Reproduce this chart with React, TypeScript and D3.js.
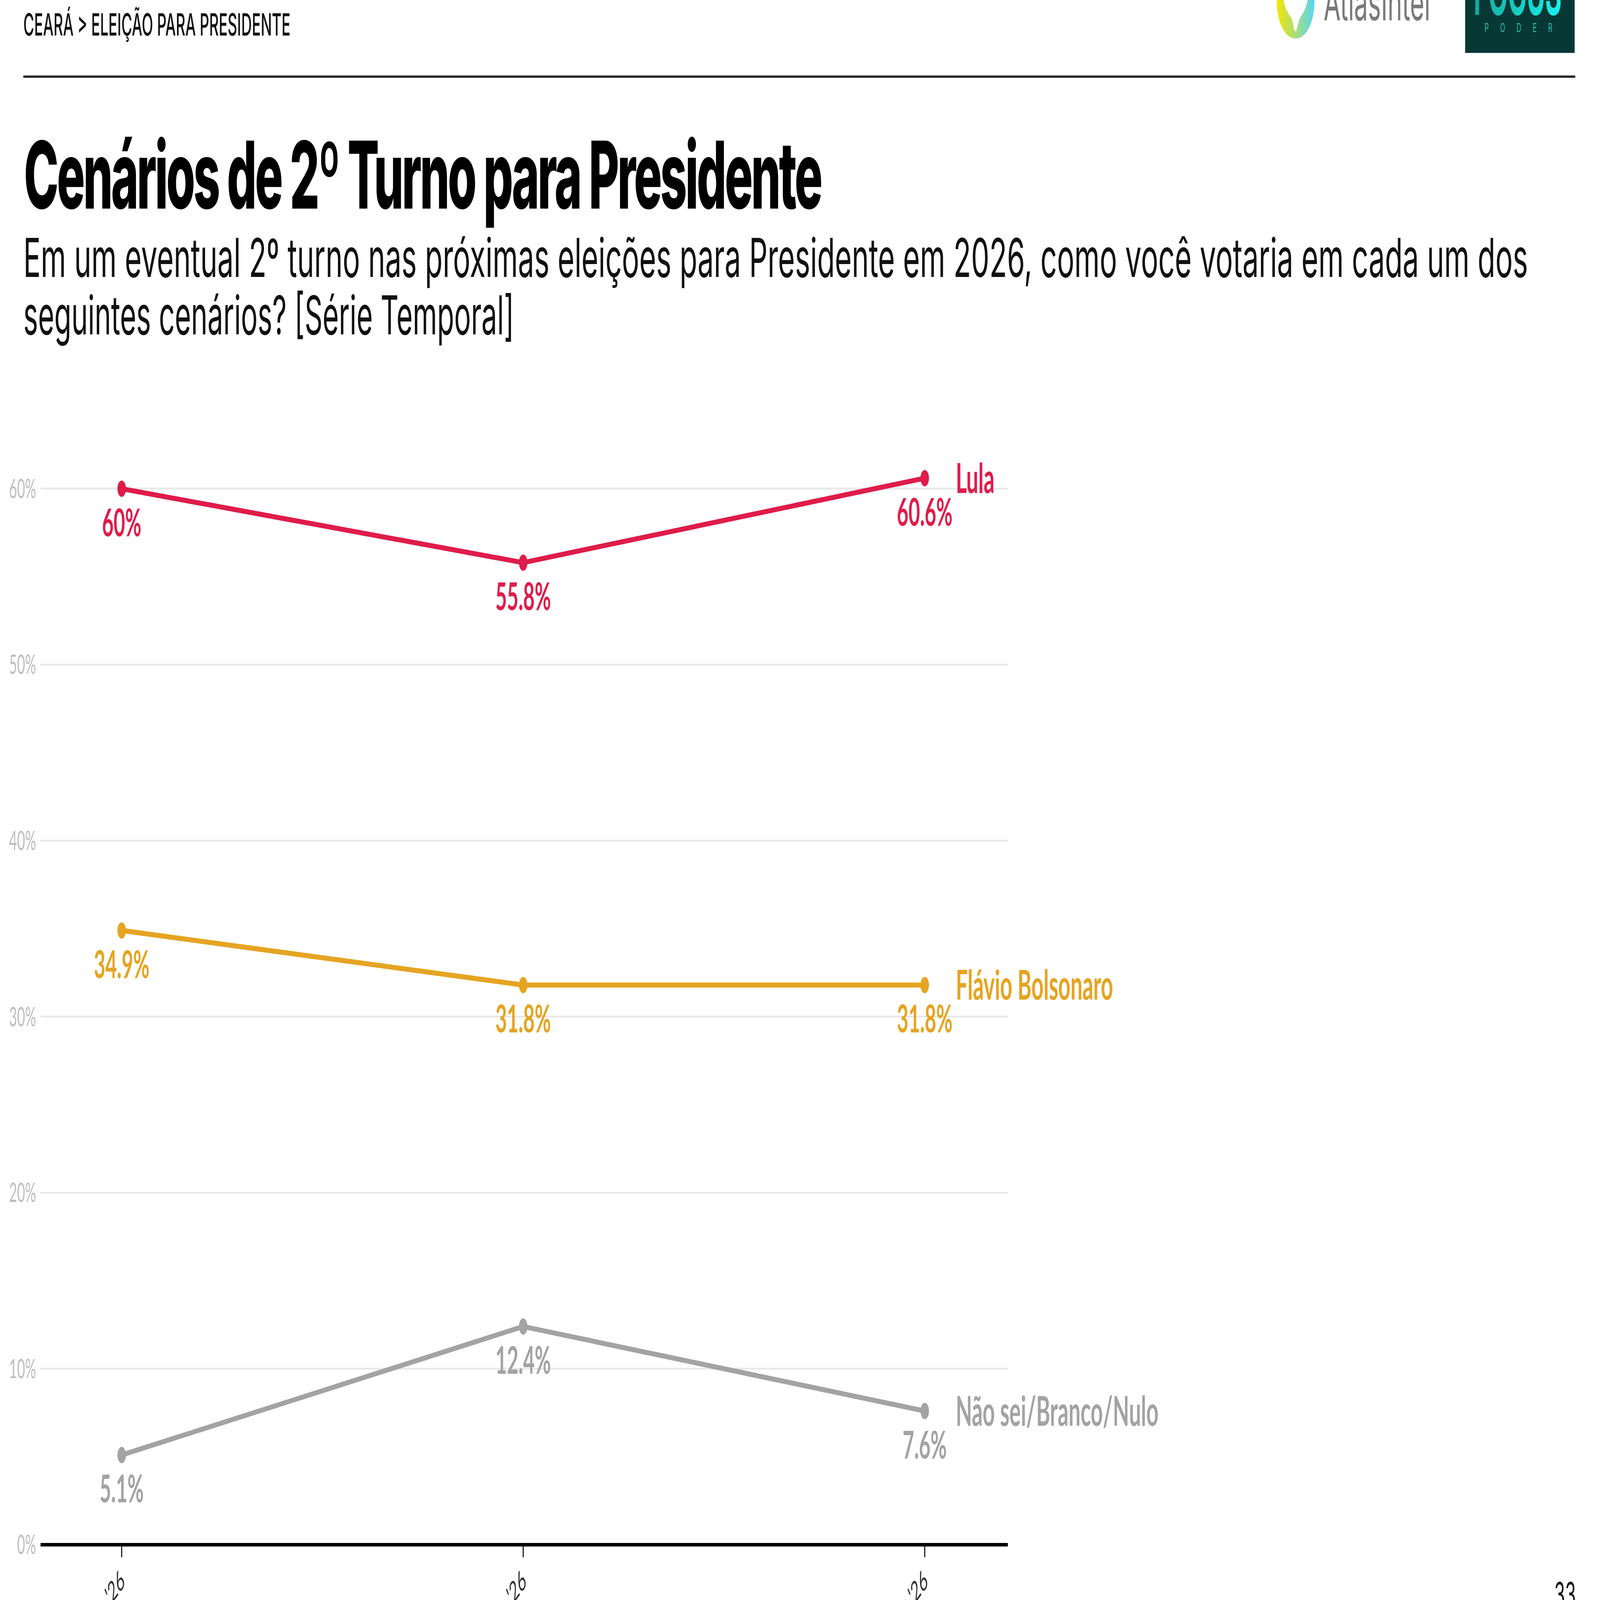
import React from 'react';
import * as d3 from 'd3';

const W = 7890;
const H = 4112;

const dates = ["Jan '26", "Fev '26", "Mar '26"];
const lula = [60, 55.8, 60.6];
const flavio = [34.9, 31.8, 31.8];
const naoSei = [5.1, 12.4, 7.6];
const seriesNames = ['Lula', 'Flávio Bolsonaro', 'Não sei/Branco/Nulo'];
const seriesColors = ['#df1c4a', '#e5a422', '#a3a3a3'];
const yTicks = [0, 10, 20, 30, 40, 50, 60];

const breadcrumb = 'CEARÁ > ELEIÇÃO PARA PRESIDENTE';
const title = 'Cenários de 2º Turno para Presidente';
const subtitle1 = 'Em um eventual 2º turno nas próximas eleições para Presidente em 2026, como você votaria em cada um dos';
const subtitle2 = 'seguintes cenários? [Série Temporal]';

const chartFont = 'Lato, "Noto Sans", sans-serif';
const headFont = 'Inter, "DejaVu Sans", sans-serif';

const fmt = (v: number) => `${v}%`;

export default function App() {
  const x = d3.scalePoint<string>().domain(dates).range([600, 4560]);
  const y = d3.scaleLinear().domain([0, 60]).range([3970, 1256]);

  const series = [lula, flavio, naoSei].map((values, i) => ({
    name: seriesNames[i],
    color: seriesColors[i],
    values,
  }));

  const line = d3
    .line<number>()
    .x((_, i) => x(dates[i]) as number)
    .y((d) => y(d));

  const gridLeft = 200;
  const gridRight = 4970;

  // the page is drawn in 7890x4112 units and stretched to whatever window we get
  return (
    <div style={{ position: 'fixed', left: 0, top: 0, width: '100vw', height: '100vh', background: '#fff' }}>
      <svg width="100%" height="100%" viewBox={`0 0 ${W} ${H}`} preserveAspectRatio="none"
        style={{ display: 'block' }}>
        <defs>
          <linearGradient id="atlasGrad" x1="0" x2="1" y1="0" y2="0">
            <stop offset="0" stopColor="#f7e600" />
            <stop offset="1" stopColor="#55d6f5" />
          </linearGradient>
          <linearGradient id="focusGrad" x1="0" x2="1" y1="0" y2="0">
            <stop offset="0" stopColor="#12a99a" />
            <stop offset="1" stopColor="#19f2ea" />
          </linearGradient>
        </defs>

        {/* header */}
        <text x={115} y={91} fontFamily={headFont} fontWeight={500} fontSize={78} fill="#111"
          textLength={1317} lengthAdjust="spacingAndGlyphs">{breadcrumb}</text>
        <line x1={115} x2={7768} y1={197} y2={197} stroke="#2a2a2a" strokeWidth={6} />

        {/* logos */}
        <path d="M6296,0 L6482,0 C6482,60 6440,99 6389,99 C6338,99 6296,60 6296,0 Z" fill="url(#atlasGrad)" />
        <path d="M6330,0 L6448,0 C6440,30 6412,40 6404,55 L6392,80 L6384,80 L6374,55 C6366,40 6338,30 6330,0 Z" fill="#fff" />
        <text x={6527} y={52} fontFamily={headFont} fontSize={125} fill="#7a7a7a"
          textLength={526} lengthAdjust="spacingAndGlyphs">AtlasIntel</text>
        <rect x={7225} y={0} width={540} height={136} fill="#083836" />
        <text x={7267} y={38} fontFamily={headFont} fontWeight={700} fontSize={160} fill="url(#focusGrad)"
          textLength={434} lengthAdjust="spacingAndGlyphs">FOCUS</text>
        <text x={7321} y={82} fontFamily={headFont} fontSize={32} fill="#1cc2b2"
          textLength={334} lengthAdjust="spacing">PODER</text>

        {/* titles */}
        <text x={118} y={536} fontFamily={headFont} fontWeight={800} fontSize={240} fill="#000"
          letterSpacing={-9} textLength={3930} lengthAdjust="spacingAndGlyphs">{title}</text>
        <text x={115} y={712} fontFamily={headFont} fontSize={138} fill="#111"
          textLength={7420} lengthAdjust="spacingAndGlyphs">{subtitle1}</text>
        <text x={115} y={859} fontFamily={headFont} fontSize={138} fill="#111"
          textLength={2420} lengthAdjust="spacingAndGlyphs">{subtitle2}</text>

        {/* grid + y labels */}
        {yTicks.map((t) => (
          <g key={t}>
            {t > 0 && (
              <line x1={gridLeft} x2={gridRight} y1={y(t)} y2={y(t)} stroke="#e9e9e9" strokeWidth={5} />
            )}
            <text x={178} y={y(t)} dy="0.35em" textAnchor="end" fontFamily={chartFont}
              fontSize={68} fill="#bdbdbd">{fmt(t)}</text>
          </g>
        ))}

        {/* x axis */}
        <line x1={gridLeft} x2={gridRight} y1={y(0)} y2={y(0)} stroke="#000" strokeWidth={9} />
        {dates.map((d) => (
          <g key={d} transform={`translate(${x(d)},${y(0)})`}>
            <line y1={0} y2={32} stroke="#000" strokeWidth={5} />
            <text transform="translate(21,102) rotate(-36)" textAnchor="end" fontFamily={chartFont}
              fontSize={72} fill="#333">{d}</text>
          </g>
        ))}

        {/* series */}
        {series.map((s) => (
          <g key={s.name}>
            <path d={line(s.values) || ''} fill="none" stroke={s.color} strokeWidth={13}
              strokeLinejoin="round" />
            {s.values.map((v, i) => (
              <g key={i}>
                <circle cx={x(dates[i])} cy={y(v)} r={21} fill={s.color} />
                <text x={x(dates[i])} y={y(v) + 122} textAnchor="middle" fontFamily={chartFont}
                  fontWeight={700} fontSize={98} fill={s.color}>{fmt(v)}</text>
              </g>
            ))}
            <text x={(x(dates[dates.length - 1]) as number) + 153} y={y(s.values[s.values.length - 1])}
              dy="0.36em" fontFamily={chartFont} fontWeight={700} fontSize={105} fill={s.color}>{s.name}</text>
          </g>
        ))}

        {/* page number */}
        <text x={7771} y={4128} textAnchor="end" fontFamily={headFont} fontSize={86} fill="#111">33</text>
      </svg>
    </div>
  );
}
